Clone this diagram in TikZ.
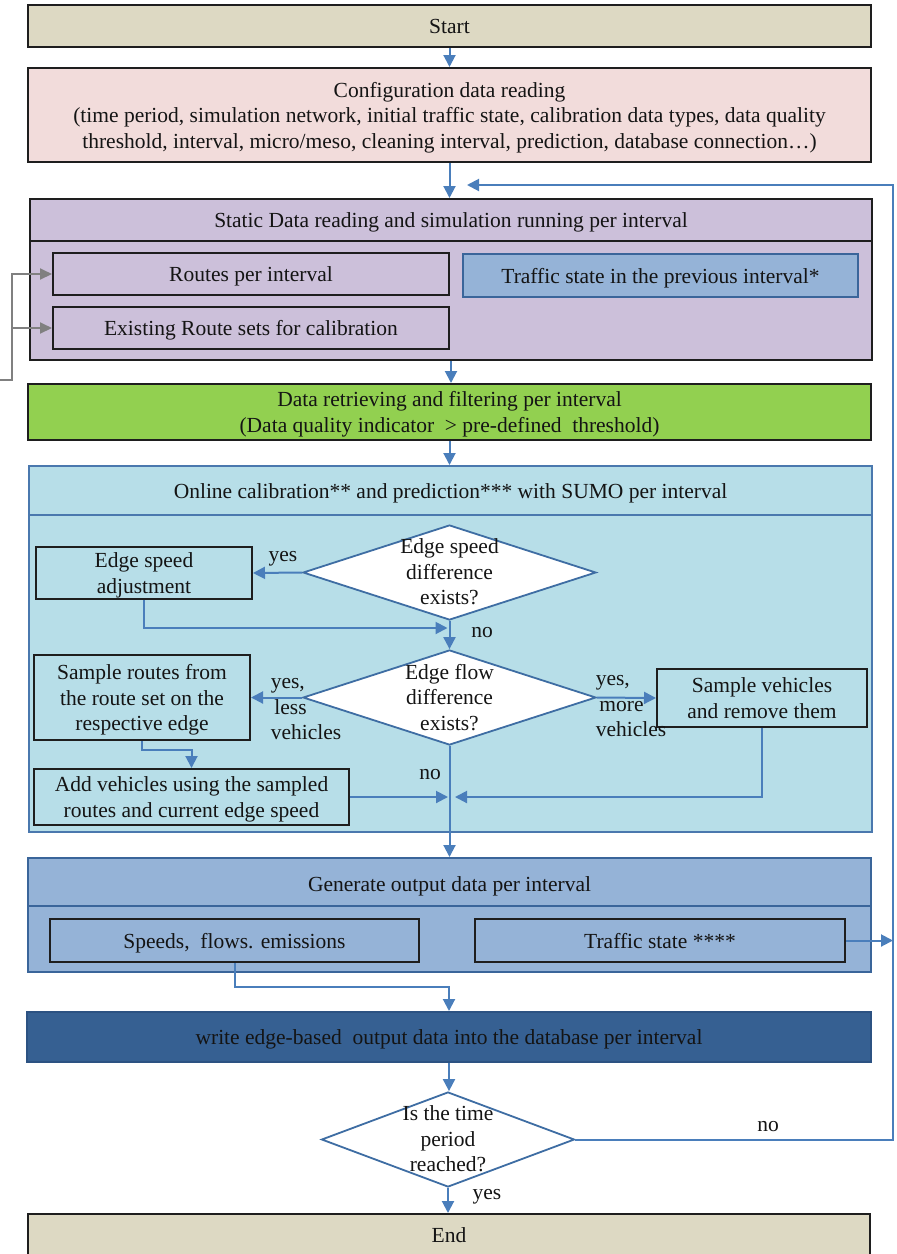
\documentclass[tikz,border=0pt]{standalone}
\usepackage{fontspec}
\setmainfont{Liberation Serif}
\usetikzlibrary{shapes.geometric,arrows.meta,calc}

\definecolor{cStartEnd}{HTML}{DDD9C3}
\definecolor{cConf}{HTML}{F2DCDB}
\definecolor{cStatic}{HTML}{CCC0DA}
\definecolor{cState}{HTML}{95B3D7}
\definecolor{cData}{HTML}{92D050}
\definecolor{cOnline}{HTML}{B7DEE8}
\definecolor{cDB}{HTML}{366092}
\definecolor{cDBedge}{HTML}{2C5282}
\definecolor{cEdge}{HTML}{1E1E1E}
\definecolor{cBlueEdge}{HTML}{4A78AE}
\definecolor{cDarkBlueEdge}{HTML}{3A659A}
\definecolor{cArrow}{HTML}{4A7EBB}
\definecolor{cDiamond}{HTML}{3E6DA3}
\definecolor{cGrayArrow}{HTML}{808080}
\definecolor{cText}{HTML}{141414}

\begin{document}
\begin{tikzpicture}[x=1pt,y=-1pt,
  every node/.style={font=\fontsize{21.5}{25.5}\selectfont, text=cText, text depth=0pt},
  box/.style={draw=cEdge, line width=2pt, inner sep=0pt, align=center},
  dia/.style={draw=cDiamond, fill=white, line width=1.8pt, diamond, inner sep=0pt},
  txt/.style={align=center, inner sep=0pt},
  divider/.style={line width=1.8pt},
  arr/.style={draw=cArrow, line width=2pt, -{Triangle[length=12pt,width=12pt]}},
  grayarr/.style={draw=cGrayArrow, line width=2pt, -{Triangle[length=12pt,width=11pt]}}]

\useasboundingbox (0,0) rectangle (897,1254);

% ---- start and configuration
\node[box, fill=cStartEnd, minimum width=843pt, minimum height=42pt] (start) at (449.5,26) {Start};
\node[box, fill=cConf, minimum width=843pt, minimum height=94pt] (config) at (449.5,115)
  {Configuration data reading\\
   (time period, simulation network, initial traffic state, calibration data types, data quality\\
   threshold, interval, micro/meso, cleaning interval, prediction, database connection…)};

% ---- static data block
\node[box, fill=cStatic, minimum width=842pt, minimum height=161pt] (static) at (451,279.5) {};
\draw[divider, draw=cEdge] (static.west |- 0,241) -- (static.east |- 0,241);
\node[txt] (statichead) at (451,220) {Static Data reading and simulation running per interval};
\node[box, fill=cStatic, minimum width=396pt, minimum height=42pt] (routes) at (251,274) {Routes per interval};
\node[box, fill=cStatic, minimum width=396pt, minimum height=42pt] (existing) at (251,328) {Existing Route sets for calibration};
\node[box, draw=cDarkBlueEdge, fill=cState, minimum width=395pt, minimum height=43pt] (prev) at (660.5,275.5) {Traffic state in the previous interval*};

% external route input
\coordinate (gin) at (0,380);
\coordinate (gjoin) at (12,380);
\draw[grayarr] (gin) -- (gjoin) |- (routes.west);
\draw[grayarr] (gjoin) |- (existing.west);

% ---- data retrieving
\node[box, fill=cData, minimum width=843pt, minimum height=56pt] (data) at (449.5,412)
  {Data retrieving and filtering per interval\\(Data quality indicator \ > pre-defined \ threshold)};

% ---- online calibration block
\node[box, draw=cBlueEdge, fill=cOnline, minimum width=843pt, minimum height=366pt] (online) at (450.5,649) {};
\draw[divider, draw=cBlueEdge] (online.west |- 0,515) -- (online.east |- 0,515);
\node[txt] (onlinehead) at (450.5,491) {Online calibration** and prediction*** with SUMO per interval};

\node[dia, minimum width=293pt, minimum height=95pt] (sd) at (449.5,572.5) {};
\node[txt] (sdtext) at (449.5,572) {Edge speed\\difference\\exists?};
\node[box, fill=cOnline, minimum width=216pt, minimum height=52pt] (adj) at (144,573) {Edge speed\\adjustment};

\node[dia, minimum width=293pt, minimum height=95pt] (fd) at (449.5,697.5) {};
\node[txt] (fdtext) at (449.5,697) {Edge flow\\difference\\exists?};
\node[box, fill=cOnline, minimum width=216pt, minimum height=85pt] (sr) at (142,697.5) {Sample routes from\\the route set on the\\respective edge};
\node[box, fill=cOnline, minimum width=315pt, minimum height=56pt] (add) at (191.5,797) {Add vehicles using the sampled\\routes and current edge speed};
\node[box, fill=cOnline, minimum width=210pt, minimum height=58pt] (sv) at (762,698) {Sample vehicles\\and remove them};

\node[txt] (lyes1) at (283,556) {yes};
\node[txt] (lno1) at (482,632) {no};
\node[txt, align=left] (lless) at (306,709) {yes,\\\,less\\vehicles};
\node[txt, align=left] (lmore) at (631,706) {yes,\\\,more\\vehicles};
\node[txt] (lno2) at (430,774) {no};

\coordinate (m1) at (449.5,628);
\coordinate (m2) at (451,797);
\draw[arr] (sd.west) -- (adj.east);
\draw[arr, shorten >=2pt] (adj.south) |- (m1);
\draw[arr] (sd.south) -- (fd.north);
\draw[arr] (fd.west) -- (sr.east);
\draw[arr] (fd.east) -- (sv.west);
\draw[arr] (sr.south) -- ++(0,9) -| (add.north);
\draw[arr, shorten >=3pt] (add.east) -- (m2);
\draw[arr, shorten >=4pt] (sv.south) |- (m2);

% ---- output generation
\node[box, draw=cDarkBlueEdge, fill=cState, minimum width=843pt, minimum height=114pt] (gen) at (449.5,915) {};
\draw[divider, draw=cDarkBlueEdge] (gen.west |- 0,906) -- (gen.east |- 0,906);
\node[txt] (genhead) at (449.5,884) {Generate output data per interval};
\node[box, fill=cState, minimum width=369pt, minimum height=43pt] (speeds) at (234.5,940.5) {Speeds, \ flows. emissions};
\node[box, fill=cState, minimum width=370pt, minimum height=43pt] (traffic) at (660,940.5) {Traffic state ****};

\draw[arr] (fd.south) -- (fd.south |- gen.north);

\node[box, draw=cDBedge, fill=cDB, minimum width=844pt, minimum height=50pt] (db) at (449,1037)
  {write edge-based \ output data into the database per interval};
\draw[arr] (speeds.south) -- ++(0,24) -| (db.north);

% ---- loop test and end
\node[dia, minimum width=253pt, minimum height=95pt] (time) at (448,1139.5) {};
\node[txt] (timetext) at (448,1139) {Is the time\\period\\reached?};
\node[box, fill=cStartEnd, minimum width=842pt, minimum height=42pt] (end) at (449,1235) {End};
\node[txt] (lno3) at (768,1126) {no};
\node[txt] (lyes3) at (487,1194) {yes};

\draw[arr] (start.south) -- (config.north);
\draw[arr] (config.south) -- (config.south |- static.north);
\draw[arr] (static.south) -- (static.south |- data.north);
\draw[arr] (data.south) -- (data.south |- online.north);
\draw[arr] (db.south) -- (db.south |- time.north);
\draw[arr] (time.south) -- (time.south |- end.north);

\coordinate (rt) at (893,185);
\coordinate (fb) at (467,185);
\draw[arr] (time.east) -| (rt) -- (fb);
\draw[arr] (traffic.east) -- (traffic.east -| rt);

\end{tikzpicture}
\end{document}
